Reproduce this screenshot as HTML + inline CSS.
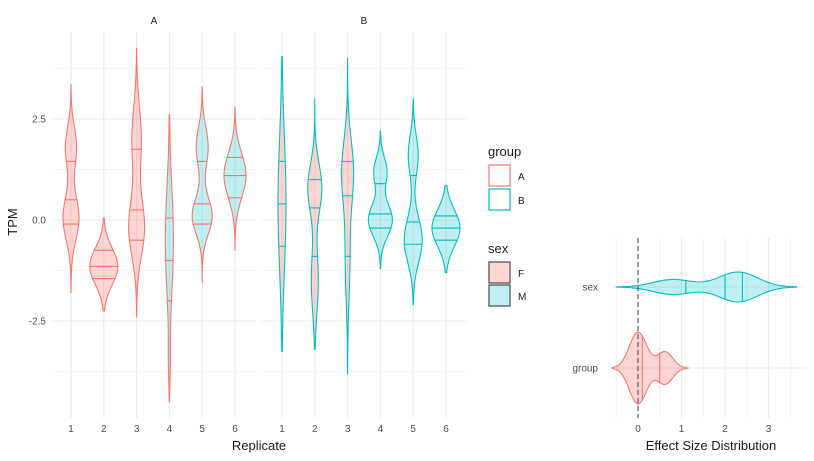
<!DOCTYPE html>
<html><head><meta charset="utf-8"><style>
body{margin:0;background:#fff;}
svg{font-family:"Liberation Sans",sans-serif;display:block}
</style></head><body>
<svg id="c" width="814" height="461" xmlns="http://www.w3.org/2000/svg"></svg>
<script>
// ---- data ----
const replicates = ["1","2","3","4","5","6"];
const yTicks = [-2.5, 0, 2.5];
const yMinor = [-3.75, -1.25, 1.25, 3.75];
// panel A violins: [min, max], quantiles, sex, modes [mu, sd, weight], max half width(px)
const aRange = [[-1.8,3.35],[-2.25,0.05],[-2.4,4.25],[-4.5,2.6],[-1.55,3.3],[-0.75,2.8]];
const aQuant = [[-0.1,0.5,1.45],[-1.45,-1.15,-0.75],[-0.5,0.25,1.75],[-2.0,-1.0,0.05],[-0.1,0.4,1.45],[0.55,1.1,1.55]];
const aSex = ["F","F","F","M","M","M"];
const aModes = [[[0.05,0.55,1],[1.8,0.5,0.7]],[[-1.15,0.45,1]],[[-0.2,0.7,1],[2.0,0.8,0.6]],[[-0.5,1.3,1],[-3.5,0.5,0.2]],[[0.1,0.45,1],[1.8,0.5,0.6]],[[1.1,0.55,1]]];
const aWidth = [8,14,8,4,10,11];
// panel B
const bRange = [[-3.25,4.05],[-3.2,3.0],[-3.8,4.0],[-1.2,2.2],[-2.1,3.0],[-1.3,0.85]];
const bQuant = [[-0.65,0.4,1.45],[-0.9,0.3,1.0],[-0.9,0.6,1.45],[-0.2,0.15,0.9],[-0.6,-0.05,1.1],[-0.5,-0.2,0.1]];
const bSex = ["F","F","F","M","M","M"];
const bModes = [[[0.4,1.6,1]],[[0.8,0.6,1],[-1.5,0.8,0.5]],[[1.2,0.8,1],[-1.0,1.0,0.4]],[[0.0,0.4,1],[1.2,0.35,0.55]],[[-0.5,0.55,1],[1.6,0.5,0.55]],[[-0.2,0.45,1]]];
const bWidth = [4,7,6,12,9,14];
// effect size panel
const effCats = ["group","sex"];
const effRange = [[-0.6,1.15],[-0.5,3.65]];
const effQuant = [[0.1,0.5],[1.1,2.0,2.4]];
const effModes = [[[0.0,0.2,1],[0.62,0.18,0.45]],[[0.8,0.45,0.5],[2.3,0.45,1]]];
const effWidth = [36,15];
const effTicks = [0,1,2,3];

const RED="#F8766D", TEAL="#00BFC4", FILLF="rgba(248,118,109,0.3)", FILLM="rgba(0,191,196,0.25)";
const svg=document.getElementById('c');
const NS="http://www.w3.org/2000/svg";
function el(tag,attrs,parent){const e=document.createElementNS(NS,tag);for(const k in attrs)e.setAttribute(k,attrs[k]);(parent||svg).appendChild(e);return e;}
function txt(s,x,y,size,anchor,fill,parent){const t=el('text',{x:x,y:y,'font-size':size,'text-anchor':anchor||'middle',fill:fill||'#4d4d4d'},parent);t.textContent=s;return t;}

const yScale = v => 220 - v*40.4;
const panels=[{x0:52,x1:256,cx:71,title:"A",range:aRange,q:aQuant,sex:aSex,modes:aModes,w:aWidth,stroke:RED,name:"panel-a"},
              {x0:262,x1:466,cx:282,title:"B",range:bRange,q:bQuant,sex:bSex,modes:bModes,w:bWidth,stroke:TEAL,name:"panel-b"}];
const step=32.8;
function dens(modes,v){let s=0;for(const m of modes){const d=v-m[0];s+=m[2]*Math.exp(-(d*d)/(2*m[1]*m[1]));}return s;}
function maxDens(modes,r){let mx=0;for(let i=0;i<=200;i++){const v=r[0]+(r[1]-r[0])*i/200;mx=Math.max(mx,dens(modes,v));}return mx;}

panels.forEach(p=>{
  const g=el('g',{});
  
  
  const xs=i=>p.cx+i*step;
  yMinor.forEach(v=>el('line',{x1:p.x0,x2:p.x1,y1:yScale(v),y2:yScale(v),stroke:'#ebebeb','stroke-width':0.6},g));
  yTicks.forEach(v=>el('line',{x1:p.x0,x2:p.x1,y1:yScale(v),y2:yScale(v),stroke:'#ebebeb','stroke-width':1.1},g));
  replicates.forEach((r,i)=>el('line',{x1:xs(i),x2:xs(i),y1:32,y2:418,stroke:'#ebebeb','stroke-width':1.1},g));
  const t=txt(p.title,(p.x0+p.x1)/2,24,10,'middle','#1a1a1a',g);
  
  
  replicates.forEach((r,i)=>{
    const lab=txt(r,xs(i),432,10,'middle','#4d4d4d',g);
    
    
    const rg=p.range[i],md=p.modes[i],mx=maxDens(md,rg),W=p.w[i],cx=xs(i);
    const hw=v=>dens(md,v)/mx*W;
    let L=[],R=[];const N=80;
    for(let k=0;k<=N;k++){const v=rg[0]+(rg[1]-rg[0])*k/N;R.push([cx+hw(v),yScale(v)]);L.push([cx-hw(v),yScale(v)]);}
    const pts=R.concat(L.reverse());
    const path=el('path',{d:'M'+pts.map(q=>q[0].toFixed(2)+','+q[1].toFixed(2)).join('L')+'Z',fill:p.sex[i]=="F"?FILLF:FILLM,stroke:p.stroke,'stroke-width':1.1},g);
    
    
    p.q[i].forEach(v=>{const w=hw(v);el('line',{x1:cx-w,x2:cx+w,y1:yScale(v),y2:yScale(v),stroke:p.stroke,'stroke-width':1.1},g);});
  });
});
yTicks.forEach(v=>{const l=txt(v.toFixed(1),46,yScale(v)+3.5,10,'end');
  
  });
let yt=el('text',{x:0,y:0,'font-size':13,'text-anchor':'middle',fill:'#1a1a1a',transform:'translate(17,222) rotate(-90)'});yt.textContent='TPM';


let xt=txt('Replicate',259,450,13,'middle','#1a1a1a');



// legend
const lg=el('g',{});


txt('group',488,156,13,'start','#1a1a1a',lg);
[["A",RED,164],["B",TEAL,188]].forEach(d=>{const k=el('rect',{x:489,y:d[2]+1,width:21,height:21,fill:'#fff',stroke:d[1],'stroke-width':1.2},lg);
  
  
  txt(d[0],518,d[2]+16,10,'start','#1a1a1a',lg);});
txt('sex',488,253,13,'start','#1a1a1a',lg);
[["F",FILLF,261],["M",FILLM,284]].forEach(d=>{const k=el('rect',{x:489,y:d[2]+1,width:21,height:21,fill:d[1],stroke:'#555','stroke-width':1.3},lg);
  
  
  txt(d[0],518,d[2]+16,10,'start','#1a1a1a',lg);});

// effect panel
const ex=v=>638+v*43.5;
const eyPos=[368,287];
const eg=el('g',{});


[-0.5,0.5,1.5,2.5,3.5].forEach(v=>el('line',{x1:ex(v),x2:ex(v),y1:238,y2:418,stroke:'#ebebeb','stroke-width':0.6},eg));
effTicks.forEach(v=>{el('line',{x1:ex(v),x2:ex(v),y1:238,y2:418,stroke:'#ebebeb','stroke-width':1.1},eg);
  const l=txt(String(v),ex(v),432,10,'middle','#4d4d4d',eg);
  
  });
eyPos.forEach(y=>el('line',{x1:616,x2:806,y1:y,y2:y,stroke:'#ebebeb','stroke-width':1.1},eg));
effCats.forEach((c,i)=>{
  const l=txt(c,598,eyPos[i]+3.5,10,'end','#4d4d4d',eg);
  
  
  const rg=effRange[i],md=effModes[i],mx=maxDens(md,rg),W=effWidth[i],cy=eyPos[i];
  const hw=v=>dens(md,v)/mx*W;
  let T=[],B=[];const N=100;
  for(let k=0;k<=N;k++){const v=rg[0]+(rg[1]-rg[0])*k/N;T.push([ex(v),cy-hw(v)]);B.push([ex(v),cy+hw(v)]);}
  const pts=T.concat(B.reverse());
  const col=i==0?RED:TEAL;
  const path=el('path',{d:'M'+pts.map(q=>q[0].toFixed(2)+','+q[1].toFixed(2)).join('L')+'Z',fill:i==0?FILLF:FILLM,stroke:col,'stroke-width':1.1},eg);
  
  
  effQuant[i].forEach(v=>{const w=hw(v);el('line',{x1:ex(v),x2:ex(v),y1:cy-w,y2:cy+w,stroke:col,'stroke-width':1.1},eg);});
});
const zl=el('line',{x1:ex(0),x2:ex(0),y1:238,y2:418,stroke:'#333','stroke-width':0.9,'stroke-dasharray':'5,3'},eg);


const et=txt('Effect Size Distribution',711,450,13,'middle','#1a1a1a');


</script>
</body></html>
